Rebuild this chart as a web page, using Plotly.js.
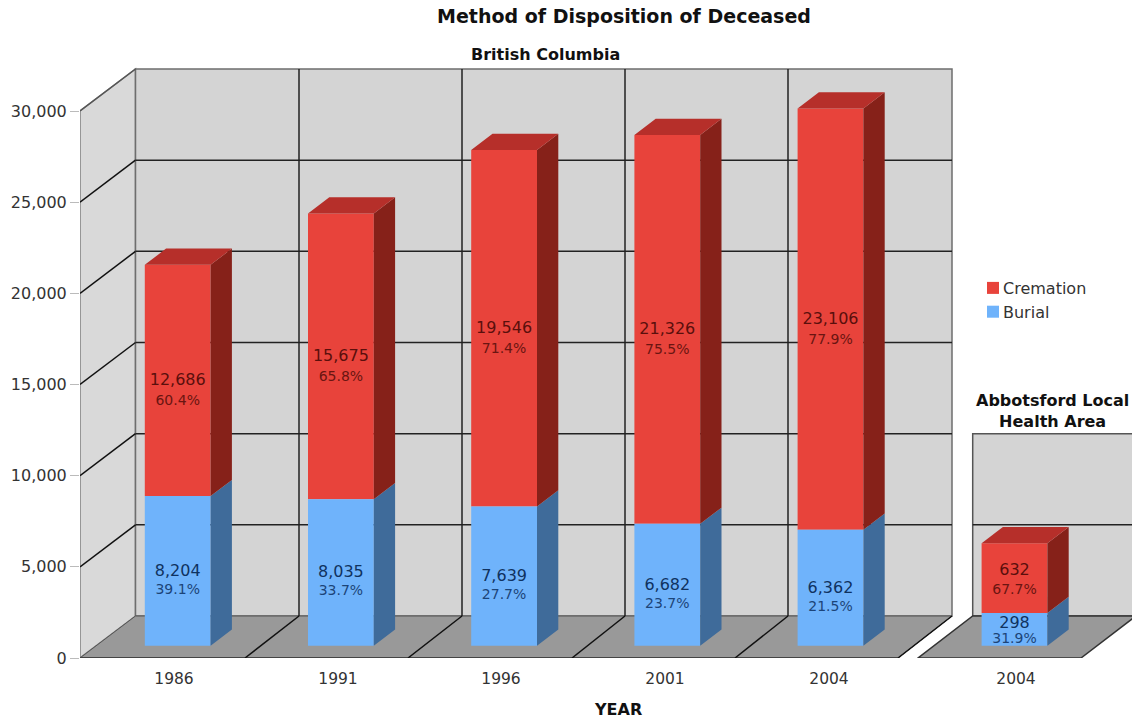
<!DOCTYPE html>
<html>
<head>
<meta charset="utf-8">
<script src="https://cdn.plot.ly/plotly-3.0.1.min.js"></script>
<style>html,body{margin:0;padding:0;background:#fff}</style>
</head>
<body>
<div id="chart" style="width:1132px;height:721px"></div>
<script>
// ---- data ----
const years = ['1986', '1991', '1996', '2001', '2004'];
const burial = [8204, 8035, 7639, 6682, 6362];
const cremation = [12686, 15675, 19546, 21326, 23106];
const burialPct = ['39.1%', '33.7%', '27.7%', '23.7%', '21.5%'];
const cremationPct = ['60.4%', '65.8%', '71.4%', '75.5%', '77.9%'];
const localYears = ['2004'];
const localBurial = [298];
const localCremation = [632];
const localBurialPct = ['31.9%'];
const localCremationPct = ['67.7%'];
const yTicks = [0, 5000, 10000, 15000, 20000, 25000, 30000];

// ---- scales ----
const W = 1132, H = 721, L = 80, B = 63;
const plotH = H - B;
const slot = 163.2, origin = 177.7;
const xs = p => (p - origin) / slot;
const pxPerUnit = 547 / 30000;        // British Columbia panel
const pxPerUnitLocal = 0.1101;        // Abbotsford panel has its own, larger scale
const yu = p => p / pxPerUnit;
const yuL = p => p / pxPerUnitLocal;
const xMain = years.map((_, i) => i);
const xLocal = [xs(1014.5)];
const barW = 65.8 / slot, dX = 21.3 / slot;

const RED = '#e8433b', RED_SIDE = '#862119', RED_TOP = '#b62f2a';
const BLUE = '#6fb3fb', BLUE_SIDE = '#3f6b9a';
const FONT = '"DejaVu Sans", Verdana, sans-serif';

function bar(name, x, vals, bases, color, yaxis, legend) {
  return {type: 'bar', name, x, y: vals, base: bases, width: barW, yaxis,
    marker: {color, line: {width: 0}}, showlegend: legend, hoverinfo: 'name+y'};
}
function face(polys, color, yaxis) {
  const x = [], y = [];
  polys.forEach(p => { p.forEach(q => { x.push(q[0]); y.push(q[1]); }); x.push(null); y.push(null); });
  return {type: 'scatter', mode: 'lines', x, y, yaxis, fill: 'toself', fillcolor: color,
    line: {width: 0, color}, showlegend: false, hoverinfo: 'skip'};
}
function sides(x, bases, vals, dY) {
  return x.map((c, i) => {
    const r = c + barW / 2;
    return [[r, bases[i]], [r, bases[i] + vals[i]], [r + dX, bases[i] + vals[i] + dY], [r + dX, bases[i] + dY]];
  });
}
function tops(x, bases, vals, dY) {
  return x.map((c, i) => {
    const t = bases[i] + vals[i], a = c - barW / 2, b = c + barW / 2;
    return [[a, t], [b, t], [b + dX, t + dY], [a + dX, t + dY]];
  });
}
function label(x, y, text, size, color, yaxis) {
  return {type: 'scatter', mode: 'text', x, y, text, yaxis, textposition: 'middle center',
    textfont: {family: FONT, size, color}, showlegend: false, hoverinfo: 'skip', cliponaxis: false};
}

const base0 = yu(12.3), dY = yu(16.2);
const burialBase = years.map(() => base0);
const cremBase = burial.map(v => v + base0);
const baseL0 = yuL(12.3), dYL = yuL(16.2);
const burialBaseL = [baseL0];
const cremBaseL = localBurial.map(v => v + baseL0);

const traces = [
  bar('Cremation', xMain, cremation, cremBase, RED, 'y', true),
  bar('Burial', xMain, burial, burialBase, BLUE, 'y', true),
  bar('Cremation (Abbotsford)', xLocal, localCremation, cremBaseL, RED, 'y2', false),
  bar('Burial (Abbotsford)', xLocal, localBurial, burialBaseL, BLUE, 'y2', false),
  face(sides(xMain, burialBase, burial, dY), BLUE_SIDE, 'y'),
  face(sides(xMain, cremBase, cremation, dY), RED_SIDE, 'y'),
  face(tops(xMain, cremBase, cremation, dY), RED_TOP, 'y'),
  face(sides(xLocal, burialBaseL, localBurial, dYL), BLUE_SIDE, 'y2'),
  face(sides(xLocal, cremBaseL, localCremation, dYL), RED_SIDE, 'y2'),
  face(tops(xLocal, cremBaseL, localCremation, dYL), RED_TOP, 'y2'),
  label(xMain, burial.map((v, i) => burialBase[i] + v / 2 - yu(1)), burial.map(v => v.toLocaleString('en-US')), 16, '#0f3260', 'y'),
  label(xMain, burial.map((v, i) => burialBase[i] + v / 2 - yu(19.5)), burialPct, 14, '#1c4478', 'y'),
  label(xMain, cremation.map((v, i) => cremBase[i] + v / 2 - yu(1)), cremation.map(v => v.toLocaleString('en-US')), 16, '#5a0f0c', 'y'),
  label(xMain, cremation.map((v, i) => cremBase[i] + v / 2 - yu(21)), cremationPct, 14, '#6a1511', 'y'),
  label(xLocal, localBurial.map((v, i) => burialBaseL[i] + v / 2 + yuL(5)), localBurial.map(String), 16, '#0f3260', 'y2'),
  label(xLocal, localBurial.map((v, i) => burialBaseL[i] + v / 2 - yuL(10)), localBurialPct, 14, '#1c4478', 'y2'),
  label(xLocal, localCremation.map((v, i) => cremBaseL[i] + v / 2 + yuL(7)), localCremation.map(String), 16, '#5a0f0c', 'y2'),
  label(xLocal, localCremation.map((v, i) => cremBaseL[i] + v / 2 - yuL(12)), localCremationPct, 14, '#6a1511', 'y2')
];

// ---- 3-D room drawn behind the bars, in axis coordinates ----
const wallDY = yu(42);
const frontX = [80, 245, 408, 572, 735, 898].map(xs);
const backX = [135.5, 299, 462, 625, 788, 952].map(xs);
const leftF = xs(80), leftB = backX[0], rightB = backX[5], rightF = frontX[5];
const topV = 30000;
function path(d, fill, lineColor, lineW) {
  return {type: 'path', path: d, xref: 'x', yref: 'y', layer: 'below', fillcolor: fill || 'rgba(0,0,0,0)',
    line: {color: lineColor || 'rgba(0,0,0,0)', width: lineW || 0}};
}
const P = pts => 'M' + pts.map(q => q[0] + ',' + q[1]).join(' L') ;
const shapes = [];
// left wall, back wall, floor
shapes.push(path(P([[leftF,0],[leftB,wallDY],[leftB,topV+wallDY],[leftF,topV]]) + ' Z', '#d9d9d9', '#808080', 1.5));
shapes.push(path(P([[leftB,wallDY],[rightB,wallDY],[rightB,topV+wallDY],[leftB,topV+wallDY]]) + ' Z', '#d4d4d4', '#6e6e6e', 1.5));
shapes.push(path(P([[leftF,0],[rightF,0],[rightB,wallDY],[leftB,wallDY]]) + ' Z', '#999999', '#555555', 1));
shapes.push(path(P([[leftF,0],[rightF,0]]), null, '#444444', 2));
yTicks.slice(1, -1).forEach(v => {
  shapes.push(path(P([[leftF,v],[leftB,v+wallDY]]), null, '#111111', 1.5));
  shapes.push(path(P([[leftB,v+wallDY],[rightB,v+wallDY]]), null, '#222222', 1.5));
});
shapes.push(path(P([[leftF,topV],[leftB,topV+wallDY]]), null, '#555555', 1.5));
backX.slice(1, -1).forEach((b, i) => {
  shapes.push(path(P([[b,wallDY],[b,topV+wallDY]]), null, '#222222', 1.5));
});
frontX.slice(1).forEach((f, i) => {
  shapes.push(path(P([[f,0],[backX[i+1],wallDY]]), null, '#111111', 1.5));
});
// Abbotsford panel
const pL = xs(972.7), pR = xs(1140), pFL = xs(918), pFR = xs(1081), pRB = xs(1136);
shapes.push(path(P([[pL,wallDY],[pR,wallDY],[pR,10000+wallDY],[pL,10000+wallDY]]) + ' Z', '#d4d4d4', '#555555', 1.5));
shapes.push(path(P([[pL,5000+wallDY],[pR,5000+wallDY]]), null, '#222222', 1.5));
shapes.push(path(P([[pFL,0],[pFR,0],[pRB,wallDY],[pL,wallDY]]) + ' Z', '#999999', '#333333', 1.5));

const px = p => (p - L) / (W - L);
const py = p => (plotH - p) / plotH;
const note = (text, x, y, size) => ({text, xref: 'paper', yref: 'paper', x: px(x), y: py(y), showarrow: false,
  xanchor: 'center', yanchor: 'middle', align: 'center', font: {family: FONT, size, color: '#111'}});

const layout = {
  width: W, height: H, margin: {l: L, r: 0, t: 0, b: B, pad: 0},
  paper_bgcolor: '#fff', plot_bgcolor: 'rgba(0,0,0,0)',
  barmode: 'overlay',
  font: {family: FONT, size: 16, color: '#333'},
  title: {text: '<b>Method of Disposition of Deceased</b>', x: 624 / W, xref: 'container', xanchor: 'center',
    y: 1 - 16 / H, yref: 'container', yanchor: 'middle', font: {family: FONT, size: 19, color: '#111'}},
  xaxis: {range: [xs(L), xs(W)], showgrid: false, zeroline: false, showline: false, tickmode: 'array',
    tickvals: [174, 338, 501, 665, 829, 1016].map(xs), ticktext: years.concat(localYears),
    ticks: 'outside', ticklen: 6, tickcolor: 'rgba(0,0,0,0)', tickfont: {family: FONT, size: 15.5, color: '#333'}, fixedrange: true},
  yaxis: {range: [0, yu(plotH)], showgrid: false, zeroline: false, showline: false, tickmode: 'array',
    tickvals: yTicks, ticktext: yTicks.map(v => v.toLocaleString('en-US')), ticks: 'outside', ticklen: 9, tickwidth: 1,
    tickcolor: '#bbbbbb', tickfont: {family: FONT, size: 16, color: '#333'}, fixedrange: true},
  yaxis2: {range: [0, yuL(plotH)], overlaying: 'y', side: 'left', visible: false, fixedrange: true},
  legend: {x: px(963), y: py(271), xanchor: 'left', yanchor: 'top', traceorder: 'normal', bgcolor: 'rgba(0,0,0,0)',
    font: {family: FONT, size: 16, color: '#333'}},
  shapes,
  annotations: [
    note('<b>British Columbia</b>', 545, 54, 16),
    note('<b>Abbotsford Local<br>Health Area</b>', 1052, 411, 16),
    note('<b>YEAR</b>', 618, 709, 16)
  ]
};

Plotly.newPlot('chart', traces, layout, {displayModeBar: false, responsive: false}).then(() => {
  document.querySelectorAll('.legend .legendsymbols').forEach(g => g.setAttribute('transform', 'translate(10,0)'));
});
</script>
</body>
</html>
